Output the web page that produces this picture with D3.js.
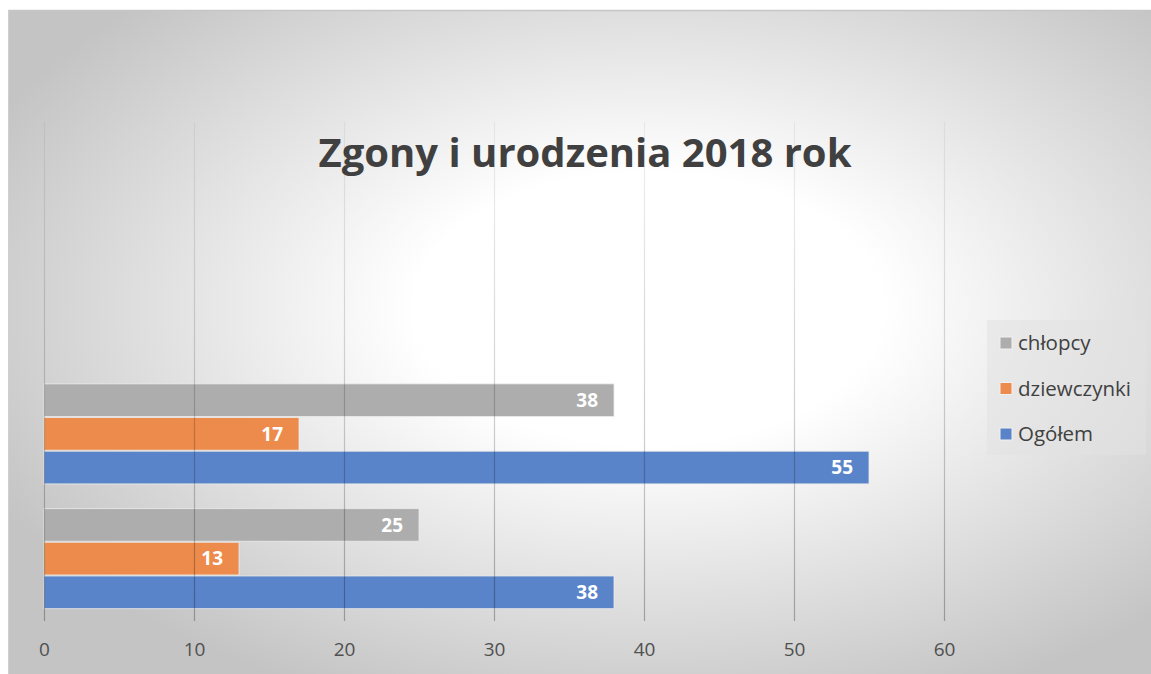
<!DOCTYPE html>
<html>
<head>
<meta charset="utf-8">
<script src="https://cdn.jsdelivr.net/npm/d3@7"></script>
<style>
  html, body { margin: 0; padding: 0; background: #fff; }
  svg { display: block; font-family: "Open Sans", "DejaVu Sans", sans-serif; }
</style>
</head>
<body>
<svg id="chart" width="1151" height="674"></svg>
<script>
// kategorie od dołu (jak w Excelu); dwie górne są puste
const categories = ["kat1", "kat2", "kat3", "kat4"];
const seriesNames = ["Ogółem", "dziewczynki", "chłopcy"];
const ogolem = [38, 55, null, null];
const dziewczynki = [13, 17, null, null];
const chlopcy = [25, 38, null, null];
const xTicks = [0, 10, 20, 30, 40, 50, 60];
const legendOrder = ["chłopcy", "dziewczynki", "Ogółem"];
const title = "Zgony i urodzenia 2018 rok";

const colors = { "Ogółem": "#5a84c9", "dziewczynki": "#ec8b4b", "chłopcy": "#adadad" };
const values = { "Ogółem": ogolem, "dziewczynki": dziewczynki, "chłopcy": chlopcy };

const svg = d3.select("#chart");
const W = 1151, H = 674;
const frame = { x: 8, y: 10 };
const plot = { left: 44, right: 944, top: 122, bottom: 621 };

const defs = svg.append("defs");
const bg = defs.append("radialGradient")
  .attr("id", "bg").attr("cx", "0.56").attr("cy", "0.45").attr("r", "0.64");
bg.append("stop").attr("offset", "0").attr("stop-color", "#ffffff");
bg.append("stop").attr("offset", "0.32").attr("stop-color", "#ffffff");
bg.append("stop").attr("offset", "1").attr("stop-color", "#c4c4c4");

const gridGrad = defs.append("linearGradient")
  .attr("id", "grid").attr("gradientUnits", "userSpaceOnUse")
  .attr("x1", 0).attr("y1", plot.top).attr("x2", 0).attr("y2", plot.bottom);
gridGrad.append("stop").attr("offset", "0").attr("stop-color", "#000").attr("stop-opacity", 0.05);
gridGrad.append("stop").attr("offset", "1").attr("stop-color", "#000").attr("stop-opacity", 0.28);

svg.append("rect")
  .attr("x", frame.x).attr("y", frame.y)
  .attr("width", W - frame.x).attr("height", H - frame.y)
  .attr("fill", "url(#bg)");
svg.append("line")
  .attr("x1", frame.x).attr("x2", W).attr("y1", frame.y + 0.5).attr("y2", frame.y + 0.5)
  .attr("stroke", "#c6c6c6").attr("stroke-width", 1.5);
svg.append("line")
  .attr("x1", frame.x + 0.5).attr("x2", frame.x + 0.5).attr("y1", frame.y).attr("y2", H)
  .attr("stroke", "#cfcfcf").attr("stroke-width", 1);

const x = d3.scaleLinear().domain([0, 60]).range([plot.left, plot.right]);
const y = d3.scaleBand().domain(categories).range([plot.bottom, plot.top])
  .paddingInner(0.19).paddingOuter(0.095);
const ySeries = d3.scaleBand().domain(seriesNames).range([y.bandwidth(), 0]);

// tytuł
svg.append("text")
  .attr("x", 585).attr("y", 167)
  .attr("text-anchor", "middle")
  .attr("font-size", 40).attr("font-weight", 700)
  .attr("fill", "#404040")
  .text(title);

// słupki
const groups = svg.append("g").selectAll("g")
  .data(categories.map((c, i) => ({ c, i })))
  .join("g")
  .attr("transform", d => `translate(0,${y(d.c)})`);

groups.selectAll("rect")
  .data(d => seriesNames.map(s => ({ s, v: values[s][d.i] })).filter(e => e.v != null))
  .join("rect")
  .attr("x", x(0))
  .attr("y", e => ySeries(e.s) + 0.5)
  .attr("width", e => x(e.v) - x(0))
  .attr("height", ySeries.bandwidth() - 1)
  .attr("fill", e => colors[e.s])
  .attr("stroke", "#ececec").attr("stroke-opacity", 0.8).attr("stroke-width", 1);

groups.selectAll("text")
  .data(d => seriesNames.map(s => ({ s, v: values[s][d.i] })).filter(e => e.v != null))
  .join("text")
  .attr("x", e => x(e.v) - 16)
  .attr("y", e => ySeries(e.s) + ySeries.bandwidth() / 2)
  .attr("dy", "0.36em")
  .attr("text-anchor", "end")
  .attr("font-size", 19).attr("font-weight", 700)
  .attr("fill", "#ffffff")
  .text(e => e.v);

// linie siatki (na wierzchu, półprzezroczyste)
svg.append("g").selectAll("line")
  .data(xTicks)
  .join("line")
  .attr("x1", d => Math.round(x(d)) + 0.5).attr("x2", d => Math.round(x(d)) + 0.5)
  .attr("y1", plot.top).attr("y2", plot.bottom)
  .attr("stroke", "url(#grid)").attr("stroke-width", 1.2);

// oś X – etykiety
const xAxis = svg.append("g")
  .attr("transform", `translate(0,${plot.bottom})`)
  .call(d3.axisBottom(x).tickValues(xTicks).tickSize(0).tickPadding(22));
xAxis.select(".domain").remove();
xAxis.selectAll("text")
  .attr("font-family", "Open Sans, sans-serif")
  .attr("font-size", 19).attr("fill", "#505050");

// legenda
const lg = svg.append("g").attr("transform", "translate(987,320)");
lg.append("rect").attr("width", 159).attr("height", 135)
  .attr("fill", "#e2e2e2").attr("fill-opacity", 0.55);
const items = lg.selectAll("g.item")
  .data(legendOrder)
  .join("g").attr("class", "item")
  .attr("transform", (d, i) => `translate(13,${23 + i * 45.5})`);
items.append("rect")
  .attr("x", 0).attr("y", -6).attr("width", 12).attr("height", 12)
  .attr("fill", d => colors[d]).attr("stroke", "#f0f0f0").attr("stroke-width", 1);
items.append("text")
  .attr("x", 18).attr("dy", "0.36em")
  .attr("font-size", 20.5).attr("fill", "#404040")
  .text(d => d);
</script>
</body>
</html>
